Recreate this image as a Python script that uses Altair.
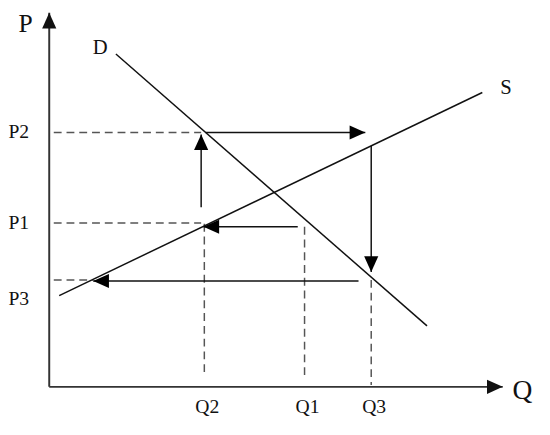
import altair as alt
import pandas as pd

# Quantity / price levels (economic units, axis origin = 0)
q_labels = ["Q2", "Q1", "Q3"]
q_values = [3.42, 5.63, 7.10]
q_dash_top = [4.36, 4.28, 2.86]
q_dash_bottom = [0.34, 0.26, 0.05]

p_labels = ["P2", "P1", "P3"]
p_values = [6.80, 4.38, 2.86]
p_dash_end = [3.35, 3.35, 0.97]

# Demand and supply curves (end points)
demand_q = [1.47, 8.33]
demand_p = [8.90, 1.63]
supply_q = [0.22, 9.55]
supply_p = [2.44, 7.87]

# Cobweb arrows: start and tip
arrow_q0 = [3.45, 7.10, 5.48, 3.35, 6.82]
arrow_p0 = [6.80, 6.44, 4.28, 4.80, 2.83]
arrow_q1 = [6.97, 7.10, 3.40, 3.35, 0.97]
arrow_p1 = [6.80, 3.07, 4.28, 6.75, 2.83]

# Axes extent
axis_max_q = 10
axis_max_p = 10

FONT = "Liberation Serif"
HEADS = {
    "right": "M0,0L-2,-0.9L-2,0.9Z",
    "left": "M0,0L2,-0.9L2,0.9Z",
    "up": "M0,0L-0.9,2L0.9,2Z",
    "down": "M0,0L-0.9,-2L0.9,-2Z",
}

xs = alt.Scale(domain=[0, 10], nice=False, zero=False)
ys = alt.Scale(domain=[0, 10], nice=False, zero=False)


def X(f):
    return alt.X(f"{f}:Q", scale=xs, axis=None)


def Y(f):
    return alt.Y(f"{f}:Q", scale=ys, axis=None)


def direction(q0, p0, q1, p1):
    if abs(q1 - q0) >= abs(p1 - p0):
        return "right" if q1 > q0 else "left"
    return "up" if p1 > p0 else "down"


# Axis lines
axes_df = pd.DataFrame({
    "q0": [0, 0], "p0": [0, 0],
    "q1": [0, axis_max_q], "p1": [axis_max_p, 0],
})
axes_df["shape"] = [HEADS[direction(*r)] for r in axes_df[["q0", "p0", "q1", "p1"]].values]

axis_lines = alt.Chart(axes_df).mark_rule(color="#333333", strokeWidth=2).encode(
    x=X("q0"), y=Y("p0"), x2="q1", y2="p1")
axis_heads = alt.Chart(axes_df).mark_point(filled=True, opacity=1, color="#111111").encode(
    x=X("q1"), y=Y("p1"), shape=alt.Shape("shape:N", scale=None), size=alt.value(256))

# Dashed guides
pdash_df = pd.DataFrame({"p": p_values, "q1": p_dash_end})
pdash = alt.Chart(pdash_df).mark_rule(color="#555555", strokeWidth=1.5, strokeDash=[8, 5]).encode(
    x=alt.X("z:Q", scale=xs, axis=None), y=Y("p"), x2="q1").transform_calculate(z="0.1")
qdash_df = pd.DataFrame({"q": q_values, "top": q_dash_top, "bot": q_dash_bottom})
qdash = alt.Chart(qdash_df).mark_rule(color="#555555", strokeWidth=1.5, strokeDash=[8, 5]).encode(
    x=X("q"), y=Y("top"), y2="bot")

# Curves
curves_df = pd.DataFrame({
    "name": ["D", "S"],
    "q0": [demand_q[0], supply_q[0]], "p0": [demand_p[0], supply_p[0]],
    "q1": [demand_q[1], supply_q[1]], "p1": [demand_p[1], supply_p[1]],
})
curves = alt.Chart(curves_df).mark_rule(color="#111111", strokeWidth=1.5).encode(
    x=X("q0"), y=Y("p0"), x2="q1", y2="p1")

# Arrows
arr_df = pd.DataFrame({"q0": arrow_q0, "p0": arrow_p0, "q1": arrow_q1, "p1": arrow_p1})
arr_df["shape"] = [HEADS[direction(*r)] for r in arr_df[["q0", "p0", "q1", "p1"]].values]
arr_lines = alt.Chart(arr_df).mark_rule(color="#111111", strokeWidth=1.5).encode(
    x=X("q0"), y=Y("p0"), x2="q1", y2="p1")
arr_heads = alt.Chart(arr_df).mark_point(filled=True, opacity=1, color="#000000").encode(
    x=X("q1"), y=Y("p1"), shape=alt.Shape("shape:N", scale=None), size=alt.value(256))

# Labels
ptxt_df = pd.DataFrame({"label": p_labels, "p": p_values, "z": [0, 0, 0]})
ptxt_main = alt.Chart(ptxt_df).transform_filter("datum.label != 'P3'").mark_text(
    font=FONT, fontSize=20, align="center", baseline="middle", dx=-31, color="#111111").encode(
    x=X("z"), y=Y("p"), text="label:N")
ptxt_p3 = alt.Chart(ptxt_df).transform_filter("datum.label == 'P3'").mark_text(
    font=FONT, fontSize=20, align="center", baseline="middle", dx=-31, dy=20, color="#111111").encode(
    x=X("z"), y=Y("p"), text="label:N")

qtxt_df = pd.DataFrame({"label": q_labels, "q": q_values, "z": [0, 0, 0]})
qtxt = alt.Chart(qtxt_df).mark_text(
    font=FONT, fontSize=20, align="center", baseline="middle", dx=3, dy=21, color="#111111").encode(
    x=X("q"), y=Y("z"), text="label:N")

d_lab = alt.Chart(curves_df).transform_filter("datum.name == 'D'").mark_text(
    font=FONT, fontSize=21, align="center", baseline="middle", dx=-16, dy=-6, color="#111111").encode(
    x=X("q0"), y=Y("p0"), text="name:N")
s_lab = alt.Chart(curves_df).transform_filter("datum.name == 'S'").mark_text(
    font=FONT, fontSize=21, align="center", baseline="middle", dx=24, dy=-5, color="#111111").encode(
    x=X("q1"), y=Y("p1"), text="name:N")

ax_lab_df = pd.DataFrame({"label": ["P", "Q"], "q": [0, axis_max_q], "p": [axis_max_p, 0]})
p_lab = alt.Chart(ax_lab_df).transform_filter("datum.label == 'P'").mark_text(
    font=FONT, fontSize=26, align="center", baseline="top", dx=-24, dy=-2, color="#111111").encode(
    x=X("q"), y=Y("p"), text="label:N")
q_lab = alt.Chart(ax_lab_df).transform_filter("datum.label == 'Q'").mark_text(
    font=FONT, fontSize=28, align="center", baseline="middle", dx=20, dy=4, color="#111111").encode(
    x=X("q"), y=Y("p"), text="label:N")

chart = alt.layer(
    pdash, qdash, curves, arr_lines, arr_heads, axis_lines, axis_heads,
    ptxt_main, ptxt_p3, qtxt, d_lab, s_lab, p_lab, q_lab,
).properties(
    width=462, height=381,
    padding={"left": 42, "top": 1, "right": 40, "bottom": 40},
    autosize="none",
    background="white",
).configure_view(stroke=None)

chart.save("out.html", embed_options={"renderer": "svg", "actions": False})
